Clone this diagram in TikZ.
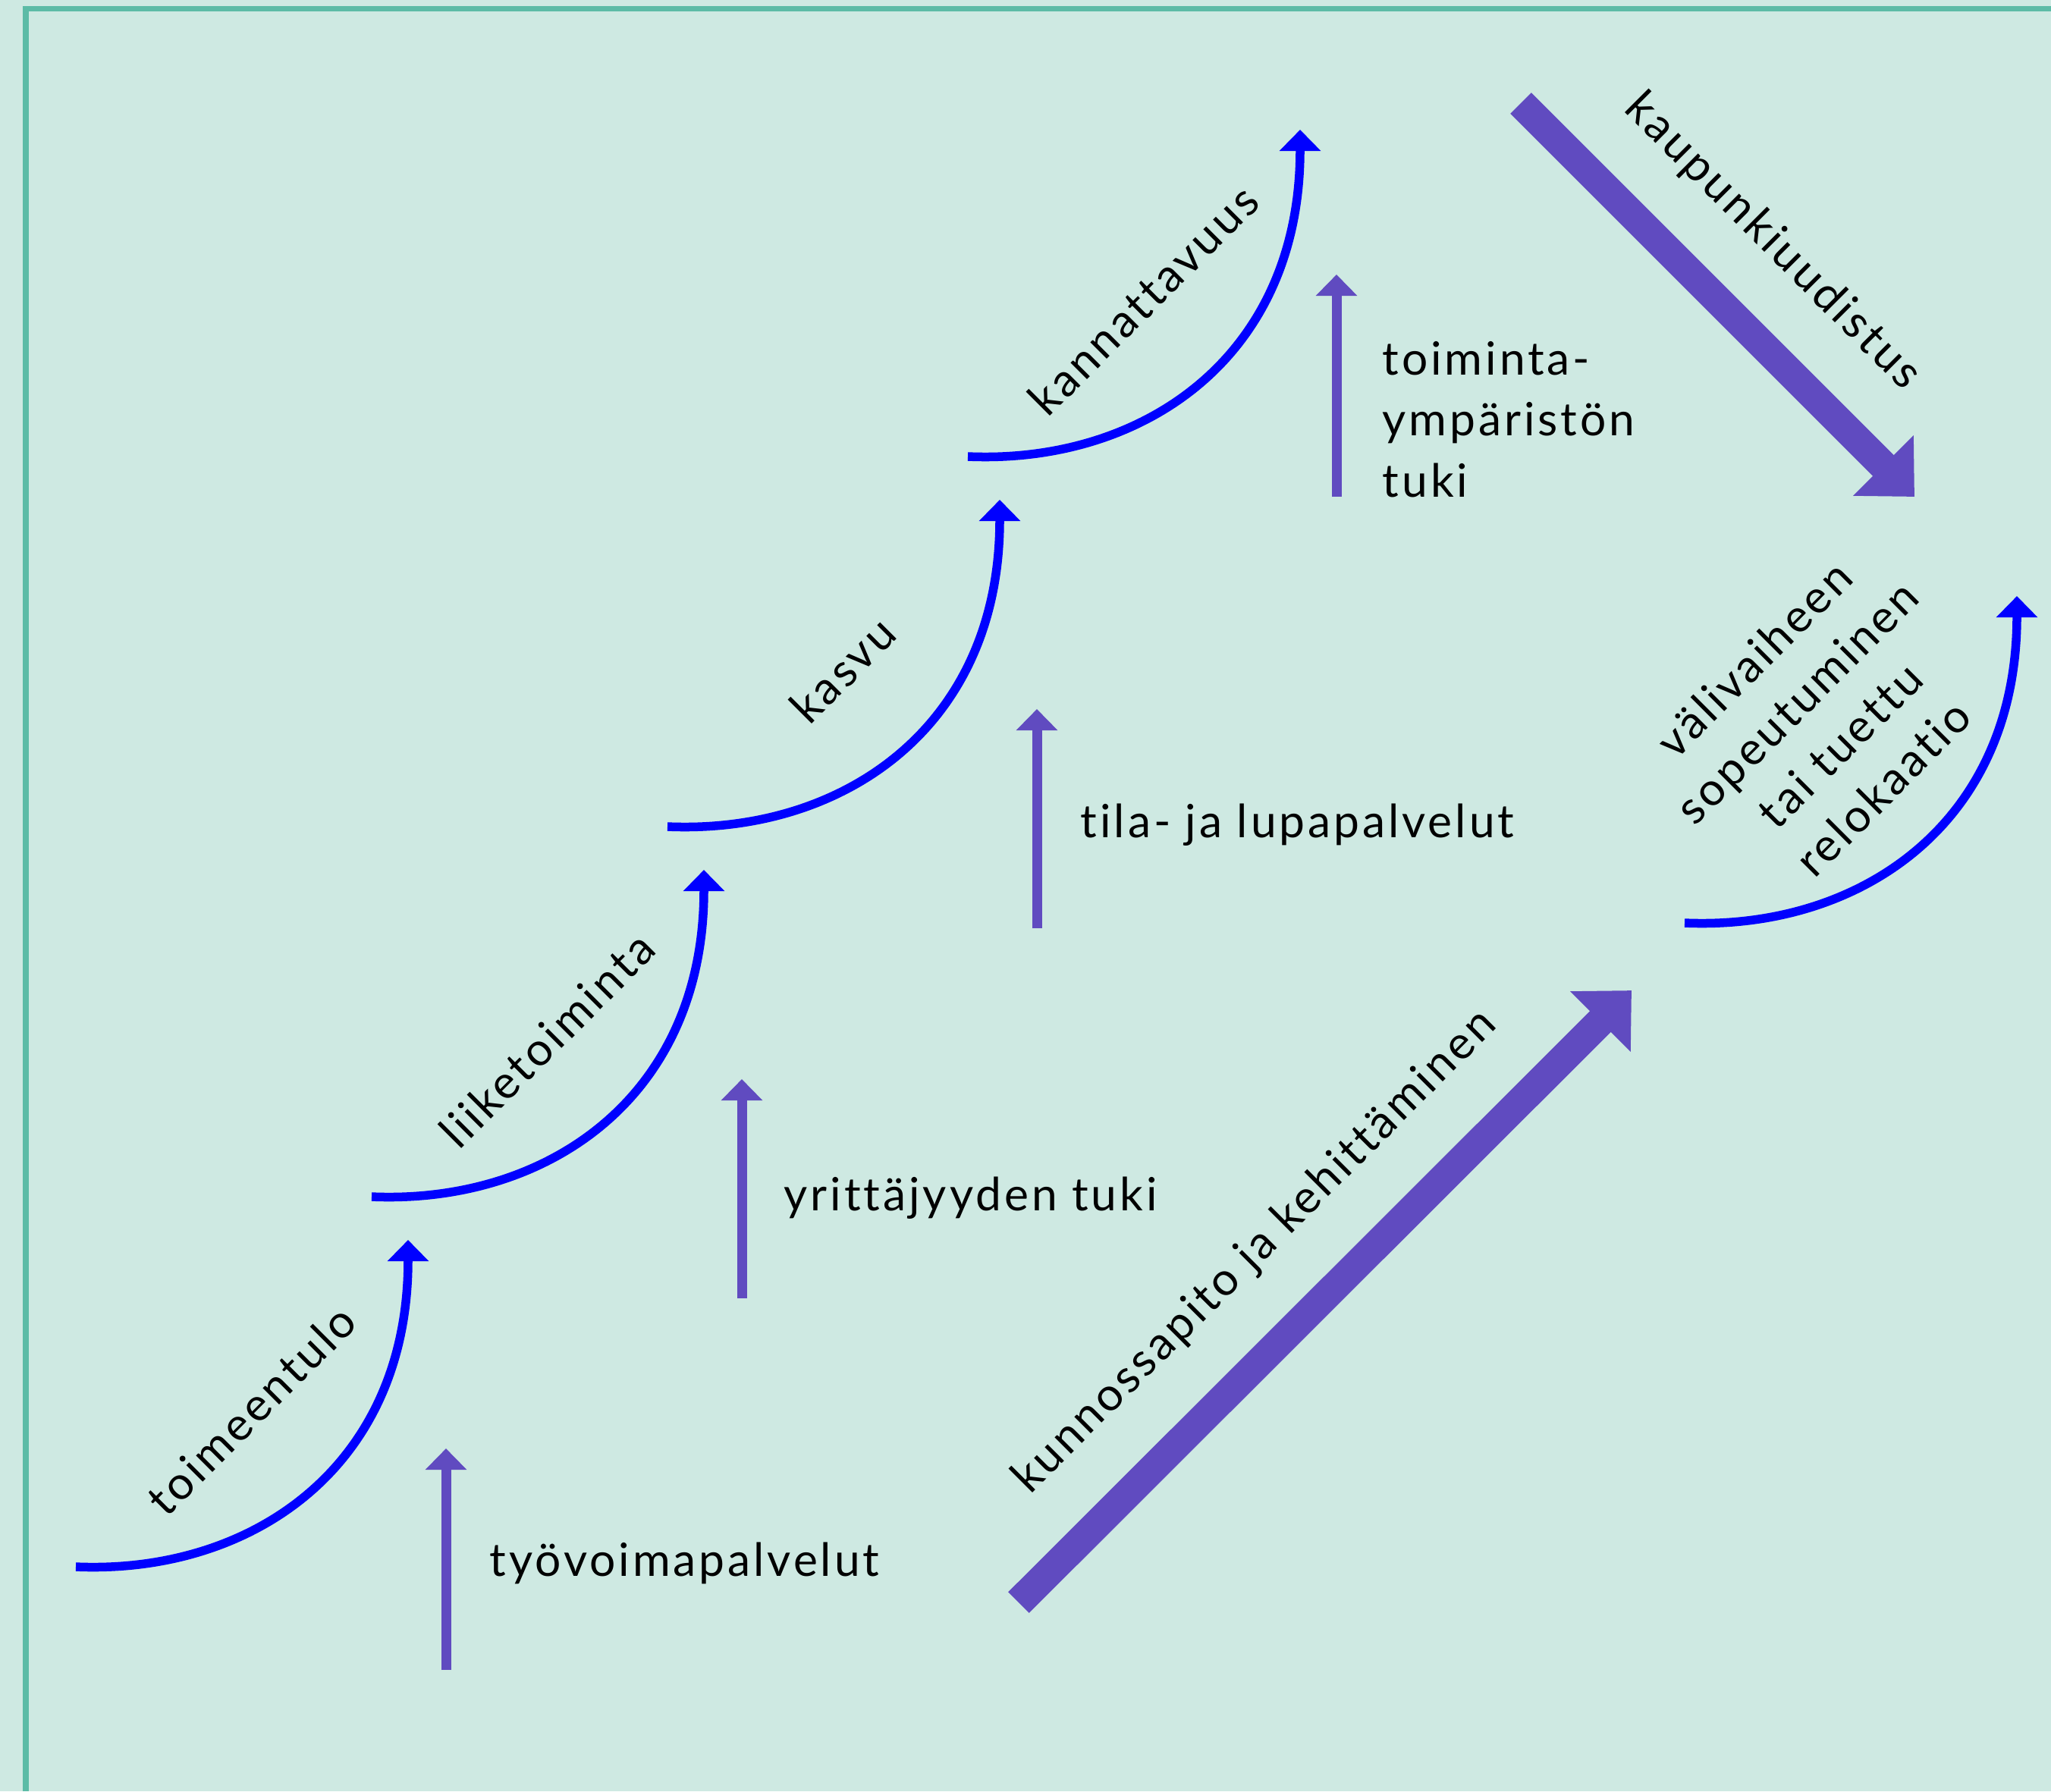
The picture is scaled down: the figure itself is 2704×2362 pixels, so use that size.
\documentclass[tikz,border=0pt]{standalone}
\usepackage{fontspec}
\setmainfont{Lato}[LetterSpace=6.5, Ligatures={NoCommon}]
\usetikzlibrary{arrows.meta,calc}
\definecolor{bgmint}{HTML}{CEE9E2}
\definecolor{framegreen}{HTML}{5CBBA6}
\definecolor{stepblue}{HTML}{0000FF}
\definecolor{purp}{HTML}{604BC0}
\tikzset{
  lbl/.style={font=\fontsize{17.2}{22.8}\selectfont, text=black, inner sep=0pt},
  bluecurve/.style={draw=stepblue, line width=0.115cm, -{Triangle[width=0.53cm,length=0.28cm]}},
  thinarrow/.style={draw=purp, line width=0.13cm, -{Triangle[width=0.53cm,length=0.28cm]}},
  thickarrow/.style={draw=purp, line width=0.39cm, -{Triangle[width=1.09cm,length=0.58cm]}},
}
\begin{document}
\begin{tikzpicture}[x=0.01cm,y=-0.01cm]
\fill[bgmint] (0,0) rectangle (2704,2362);
\useasboundingbox (0,0) rectangle (2704,2362);
\draw[framegreen, line width=0.075cm] (34,2362) -- (34,11.5) -- (2704,11.5);

% stepped blue curves
\foreach \n/\sx/\sy in {1/100/2066, 2/490/1578, 3/880/1090, 4/1276/602, 5/2221/1217} {
  \coordinate (c\n s) at (\sx,\sy);
  \coordinate (c\n e) at ($(c\n s)+(438,-431)$);
  \draw[bluecurve] (c\n s) .. controls ($(c\n s)+(230,10)$) and ($(c\n e)+(0,301)$) .. (c\n e);
}
\node[lbl, rotate=45] (t1) at ($(c1s)+(231,-207)$) {toimeentulo};
\node[lbl, rotate=45] (t2) at ($(c2s)+(231,-207)$) {liiketoiminta};
\node[lbl, rotate=45] (t3) at ($(c3s)+(231,-207)$) {kasvu};
\node[lbl, rotate=45] (t4) at ($(c4s)+(231,-207)$) {kannattavuus};
\node[lbl, rotate=45, align=center] (t5) at (2397,954) {välivaiheen\\sopeutuminen\\tai tuettu\\relokaatio};

% thin support arrows
\coordinate (a1s) at (588,2202);  \coordinate (a1e) at (588,1910);
\coordinate (a2s) at (978,1712);  \coordinate (a2e) at (978,1423);
\coordinate (a3s) at (1367,1224); \coordinate (a3e) at (1367,935);
\coordinate (a4s) at (1762,655);  \coordinate (a4e) at (1762,362);
\draw[thinarrow] (a1s) -- (a1e);
\draw[thinarrow] (a2s) -- (a2e);
\draw[thinarrow] (a3s) -- (a3e);
\draw[thinarrow] (a4s) -- (a4e);
\node[lbl, anchor=base west] (p1) at (645,2078) {työvoimapalvelut};
\node[lbl, anchor=base west] (p2) at (1033,1596) {yrittäjyyden tuki};
\node[lbl, anchor=base west] (p3) at (1424,1104) {tila- ja lupapalvelut};
\node[lbl, anchor=base west, align=left] (p4) at (1822,655) {toiminta-\\ympäristön\\tuki};

% thick arrows
\coordinate (k1s) at (1343,2113); \coordinate (k1e) at (2151,1306);
\coordinate (k2s) at (2005,136);  \coordinate (k2e) at (2524,655);
\draw[thickarrow] (k1s) -- (k1e);
\draw[thickarrow] (k2s) -- (k2e);
\node[lbl, rotate=45] (tk1) at (1655,1651) {kunnossapito ja kehittäminen};
\node[lbl, rotate=-45] (tk2) at (2337,319) {kaupunkiuudistus};
\end{tikzpicture}
\end{document}
